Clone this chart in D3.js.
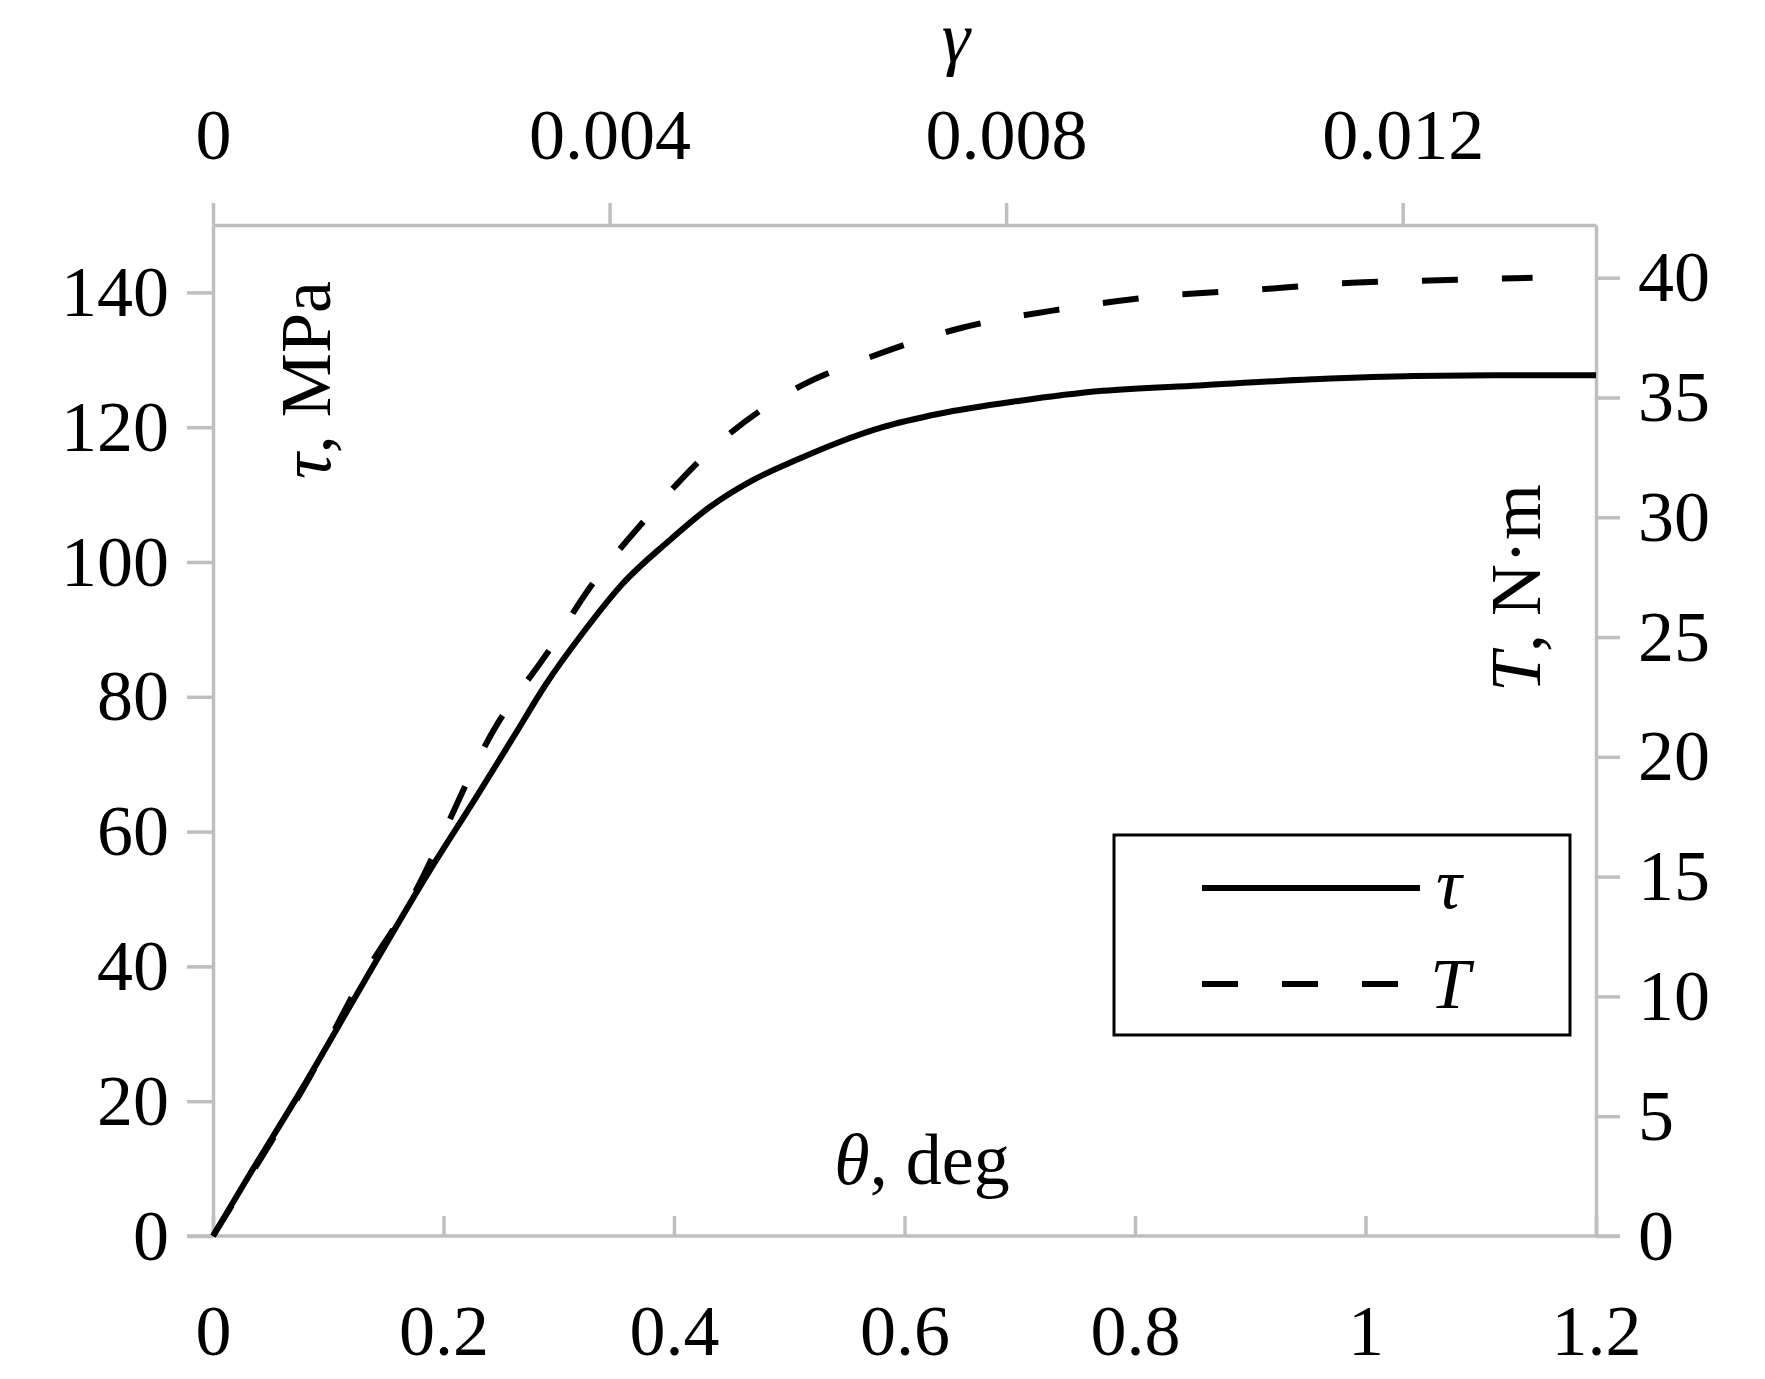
<!DOCTYPE html><html><head><meta charset="utf-8">
<script src="https://d3js.org/d3.v7.min.js"></script>
<style>body{margin:0;background:#fff}</style></head><body>
<svg id="c" width="1765" height="1379"></svg>
<script>
const tauTheta=[0,0.031,0.076,0.13,0.188,0.228,0.262,0.289,0.321,0.355,0.394,0.429,0.468,0.507,0.542,0.581,0.63,0.699,0.772,0.856,0.954,1.042,1.13,1.2];
const tauVals=[0,8.9,21.5,37.4,54.2,65,74.4,81.9,89.5,96.7,102.9,107.9,112.1,115.2,117.7,120,122,123.9,125.4,126.2,127.1,127.6,127.7,127.7];
const TTheta=[0,0.041,0.08,0.13,0.169,0.247,0.291,0.326,0.375,0.434,0.503,0.571,0.649,0.738,0.816,0.905,0.993,1.071,1.145];
const TVals=[0,3.2,6.3,10.8,13.8,21.4,24.4,27.0,29.9,32.9,35.3,36.7,37.9,38.7,39.2,39.5,39.8,39.9,40.0];
const leftTicks=[0,20,40,60,80,100,120,140];
const rightTicks=[0,5,10,15,20,25,30,35,40];
const bottomTicks=[0,0.2,0.4,0.6,0.8,1,1.2];
const topTicks=[0,0.004,0.008,0.012];

const L=213,R=1596,T=225,B=1236;
const svg=d3.select("#c");
const x=d3.scaleLinear().domain([0,1.2]).range([L,R]);
const xt=d3.scaleLinear().domain([0,0.01395]).range([L,R]);
const y=d3.scaleLinear().domain([0,150]).range([B,T]);
const y2=d3.scaleLinear().domain([0,42.2]).range([B,T]);
const gray="#bfbfbf",font="'Liberation Serif','DejaVu Serif',serif",fs=72;
function style(g){g.selectAll("path,line").attr("stroke",gray).attr("stroke-width",3.5);
 g.selectAll("text").attr("font-family",font).attr("font-size",fs).attr("fill","#000");}
svg.append("g").attr("transform",`translate(${L},0)`).call(d3.axisLeft(y).tickValues(leftTicks).tickSize(26).tickSizeOuter(0).tickPadding(18)).call(style);
svg.append("g").attr("transform",`translate(${R},0)`).call(d3.axisRight(y2).tickValues(rightTicks).tickSize(24).tickSizeOuter(0).tickPadding(18)).call(style);
const gb=svg.append("g").attr("transform",`translate(0,${B})`).call(d3.axisBottom(x).tickValues(bottomTicks).tickFormat(d3.format("")).tickSize(0).tickPadding(68)).call(style);
gb.selectAll(".tick line").attr("y2",-20);
gb.select(".domain").attr("d",`M${L-26},0H${R+24}`);
svg.append("g").attr("transform",`translate(0,${T})`).call(d3.axisTop(xt).tickValues(topTicks).tickFormat(d=>d===0?"0":d3.format(".3f")(d)).tickSize(22).tickSizeOuter(0).tickPadding(44)).call(style);

const line=d3.line().curve(d3.curveMonotoneX);
svg.append("path").attr("d",line(tauTheta.map((t,i)=>[x(t),y(tauVals[i])]))).attr("fill","none").attr("stroke","#000").attr("stroke-width",6);
svg.append("path").attr("d",line(TTheta.map((t,i)=>[x(t),y2(TVals[i])]))).attr("fill","none").attr("stroke","#000").attr("stroke-width",6).attr("stroke-dasharray","36,44");

function txt(xx,yy,rot){return svg.append("text").attr("font-family",font).attr("font-size",fs).attr("text-anchor","middle")
 .attr("transform",`translate(${xx},${yy})`+(rot?` rotate(${rot})`:""));}
let t=txt(956,62);t.append("tspan").attr("font-style","italic").text("γ");
t=txt(330,380,-90);t.append("tspan").attr("font-style","italic").text("τ");t.append("tspan").text(", MPa");
t=txt(1540,588,-90);t.append("tspan").attr("font-style","italic").text("T");t.append("tspan").text(", N·m");
t=txt(922,1184);t.append("tspan").attr("font-style","italic").text("θ");t.append("tspan").text(", deg");

svg.append("rect").attr("x",1114).attr("y",835).attr("width",456).attr("height",200).attr("fill","#fff").attr("stroke","#000").attr("stroke-width",3);
svg.append("line").attr("x1",1202).attr("x2",1420).attr("y1",888).attr("y2",888).attr("stroke","#000").attr("stroke-width",6);
svg.append("line").attr("x1",1202).attr("x2",1420).attr("y1",984).attr("y2",984).attr("stroke","#000").attr("stroke-width",6).attr("stroke-dasharray","36,44");
svg.append("text").attr("x",1436).attr("y",908).attr("font-family",font).attr("font-size",fs).attr("font-style","italic").text("τ");
svg.append("text").attr("x",1430).attr("y",1008).attr("font-family",font).attr("font-size",fs).attr("font-style","italic").text("T");
</script></body></html>
